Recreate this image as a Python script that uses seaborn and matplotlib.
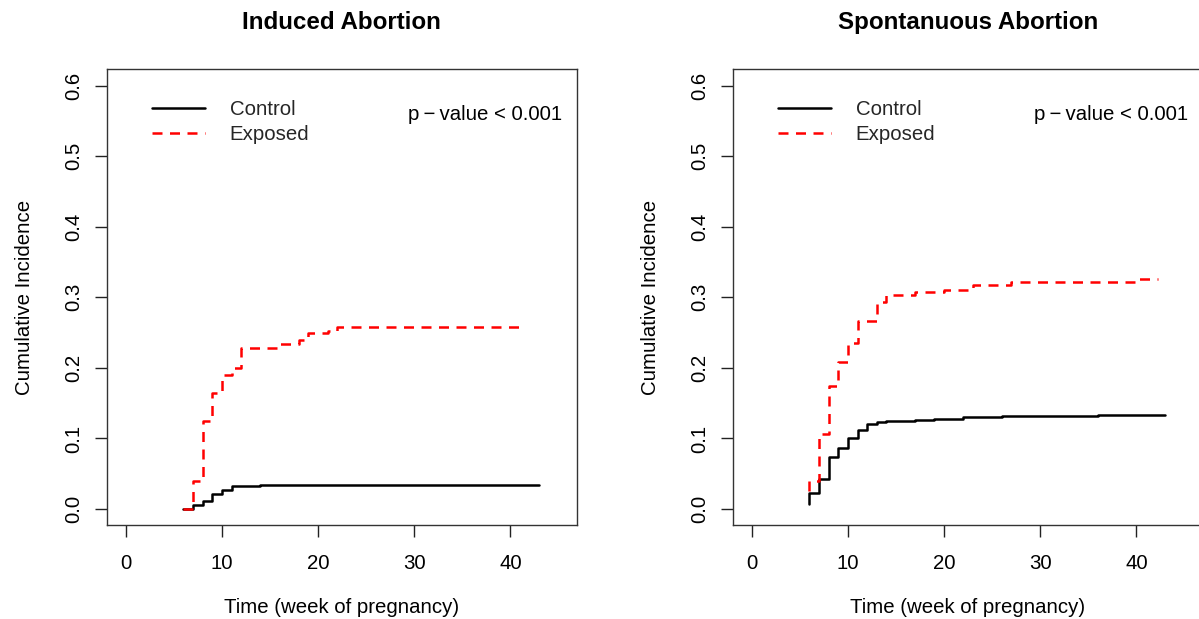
import matplotlib
matplotlib.use("Agg")
import matplotlib.pyplot as plt
import seaborn as sns
import pandas as pd

# ---------------- data ----------------
panel_titles = ["Induced Abortion", "Spontanuous Abortion"]
group_names = ["Control", "Exposed"]
p_text = "p\u2009\u2212\u2009value < 0.001"
x_ticks = [0, 10, 20, 30, 40]
y_ticks = [0.0, 0.1, 0.2, 0.3, 0.4, 0.5, 0.6]
y_tick_labels = ["0.0", "0.1", "0.2", "0.3", "0.4", "0.5", "0.6"]

induced_control_week = [6, 7, 8, 9, 10, 11, 13, 14, 43]
induced_control_ci = [0.0, 0.005, 0.011, 0.0215, 0.0275, 0.032, 0.033, 0.0345, 0.0345]

induced_exposed_week = [6, 7, 8, 9, 10, 11, 12, 16, 18, 19, 21, 22, 41]
induced_exposed_ci = [0.0, 0.039, 0.125, 0.165, 0.19, 0.2, 0.228, 0.234, 0.239,
                      0.249, 0.252, 0.258, 0.258]

spont_control_week = [6, 6, 7, 8, 9, 10, 11, 12, 13, 14, 17, 19, 22, 26, 36, 43]
spont_control_ci = [0.007, 0.022, 0.0425, 0.073, 0.086, 0.100, 0.112, 0.121, 0.123,
                    0.125, 0.126, 0.128, 0.130, 0.132, 0.1336, 0.1336]

spont_exposed_week = [6, 6, 7, 8, 9, 10, 11, 13, 14, 17, 20, 23, 27, 40, 42.2]
spont_exposed_ci = [0.025, 0.04, 0.107, 0.175, 0.209, 0.235, 0.266, 0.293, 0.303,
                    0.307, 0.311, 0.317, 0.3215, 0.326, 0.326]


def make_df(cw, cv, ew, ev):
    return pd.DataFrame({
        "week": list(cw) + list(ew),
        "ci": list(cv) + list(ev),
        "group": [group_names[0]] * len(cw) + [group_names[1]] * len(ew),
    })


panels = [
    make_df(induced_control_week, induced_control_ci, induced_exposed_week, induced_exposed_ci),
    make_df(spont_control_week, spont_control_ci, spont_exposed_week, spont_exposed_ci),
]

# ---------------- style ----------------
sns.set_theme(style="white")
plt.rcParams["font.family"] = ["Liberation Sans", "DejaVu Sans"]
plt.rcParams["axes.edgecolor"] = "#333333"
plt.rcParams["axes.linewidth"] = 1.0
FS = 14.7
FS_TITLE = 17.4

fig = plt.figure(figsize=(11.99, 6.19), dpi=100)
W, H = 1199, 619
lefts = [107, 733]
box_w = 469.7
box_bottom = 525.3
box_top = 69.3

for i, df in enumerate(panels):
    ax = fig.add_axes([lefts[i] / W, 1 - box_bottom / H, box_w / W, (box_bottom - box_top) / H])
    sns.lineplot(
        data=df, x="week", y="ci", hue="group", style="group",
        hue_order=group_names, style_order=group_names,
        palette={"Control": "black", "Exposed": "red"},
        dashes={"Control": "", "Exposed": (4, 3)},
        estimator=None, sort=False, drawstyle="steps-post",
        linewidth=1.8, legend=False, ax=ax,
    )
    ax.set_xlim(-1.95, 46.9)
    ax.set_ylim(-0.0231, 0.6232)
    ax.set_xticks(x_ticks)
    ax.set_xticklabels([str(t) for t in x_ticks])
    ax.set_yticks(y_ticks)
    ax.set_yticklabels(y_tick_labels, rotation=90, va="center")
    ax.tick_params(axis="both", direction="out", length=8.5, width=1.0,
                   colors="#222222", labelsize=FS, labelcolor="black",
                   bottom=True, left=True)
    ax.tick_params(axis="x", pad=12.5)
    ax.tick_params(axis="y", pad=8.5)
    for s in ax.spines.values():
        s.set_visible(True)
        s.set_color("#333333")
        s.set_linewidth(1.0)
    ax.set_xlabel("Time (week of pregnancy)", fontsize=FS, labelpad=17.5, color="black")
    ax.set_ylabel("Cumulative Incidence", fontsize=FS, labelpad=22, color="black")
    ax.set_title(panel_titles[i], fontsize=FS_TITLE, fontweight="bold", pad=29, color="black")

    ax.text(0.969, 0.9015, p_text, transform=ax.transAxes, ha="right", va="center",
            fontsize=FS, color="black")

    handles = ax.get_lines()[:2]
    ax.legend(handles=handles, labels=group_names, loc="upper left",
              bbox_to_anchor=(0.096, 0.932), frameon=False, fontsize=FS,
              handlelength=2.6, handletextpad=1.2, labelspacing=0.3,
              borderpad=0, borderaxespad=0)

fig.savefig("out.png", dpi=100)
